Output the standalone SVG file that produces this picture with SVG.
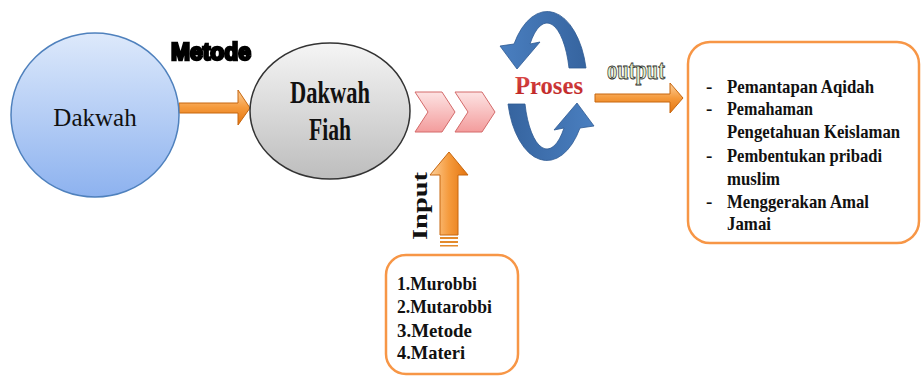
<svg xmlns="http://www.w3.org/2000/svg" width="921" height="376" viewBox="0 0 921 376">
<style>
.serif{font-family:"Liberation Serif","Times New Roman",serif;}
.item{font-family:"Liberation Serif","Times New Roman",serif;font-weight:bold;font-size:19px;fill:#111;}
.box{fill:#fff;stroke:#f79646;stroke-width:2.5;}
.oarrow{fill:url(#gOrange);stroke:#c7670f;stroke-width:1;}
.blue{fill:url(#gBlue);stroke:#2f5b93;stroke-width:0.8;}
.chev{fill:url(#gPink);stroke:#d46a6a;stroke-width:1;}
</style>
<defs>
<linearGradient id="gDakwah" x1="0" y1="0" x2="0" y2="1">
<stop offset="0" stop-color="#dde9fb"/><stop offset="1" stop-color="#8db2ef"/>
</linearGradient>
<linearGradient id="gGray" x1="0" y1="0" x2="0" y2="1">
<stop offset="0" stop-color="#f5f5f5"/><stop offset="1" stop-color="#bdbdbd"/>
</linearGradient>
<linearGradient id="gOrange" x1="0" y1="0" x2="0" y2="1">
<stop offset="0" stop-color="#fcd09c"/><stop offset="0.5" stop-color="#f59a3c"/><stop offset="1" stop-color="#e3740f"/>
</linearGradient>
<linearGradient id="gOrangeV" x1="0" y1="0" x2="1" y2="0">
<stop offset="0" stop-color="#fcd09c"/><stop offset="0.5" stop-color="#f59a3c"/><stop offset="1" stop-color="#e3740f"/>
</linearGradient>
<linearGradient id="gPink" x1="0" y1="0" x2="0" y2="1">
<stop offset="0" stop-color="#fde3e3"/><stop offset="1" stop-color="#f39c9c"/>
</linearGradient>
<linearGradient id="gBlue" x1="0" y1="0" x2="1" y2="0">
<stop offset="0" stop-color="#4a7fc0"/><stop offset="1" stop-color="#36649f"/>
</linearGradient>
<linearGradient id="gRed" x1="0" y1="0" x2="0" y2="1">
<stop offset="0" stop-color="#e05050"/><stop offset="1" stop-color="#b81e1e"/>
</linearGradient>
<filter id="blur1" x="-10%" y="-30%" width="120%" height="160%">
<feGaussianBlur stdDeviation="0.7"/>
</filter>
</defs>

<g id="connectors">
<path class="oarrow" d="M179,103 L238,103 L238,90 L250,108 L238,125 L238,113 L179,113 Z"/>
<path class="oarrow" d="M595,94 L670,94 L670,83 L683,98 L670,113 L670,102 L595,102 Z"/>
<g id="input-arrow">
<path fill="url(#gOrangeV)" stroke="#c7670f" stroke-width="1" d="M440,235 L440,175 L430,175 L449,152 L468,175 L458,175 L458,235 Z"/>
<rect x="440" y="237" width="18" height="2" fill="#e38a2c"/>
<rect x="440" y="241" width="18" height="2" fill="#e38a2c"/>
<rect x="440" y="245" width="18" height="1.5" fill="#e38a2c"/>
</g>
<g id="chevrons">
<polygon class="chev" points="415,92 442,92 455,112 442,132 415,132 428,112"/>
<polygon class="chev" points="455,92 482,92 495,112 482,132 455,132 468,112"/>
</g>
</g>

<g id="label-metode">
<text x="211" y="60" text-anchor="middle" font-family="'Liberation Sans',Arial,sans-serif" font-weight="bold" font-size="24" textLength="80" lengthAdjust="spacingAndGlyphs" fill="#000" stroke="#000" stroke-width="2.6" filter="url(#blur1)">Metode</text>
</g>

<g id="label-output">
<text x="636" y="79" text-anchor="middle" class="serif" font-weight="bold" font-size="28" textLength="58" lengthAdjust="spacingAndGlyphs" fill="#e4efcc" stroke="#2c2c2c" stroke-width="0.9">output</text>
</g>

<g id="label-input">
<text transform="translate(427,206) rotate(-90)" x="0" y="0" text-anchor="middle" class="serif" font-weight="bold" font-size="20" textLength="68" lengthAdjust="spacingAndGlyphs" fill="#111">Input</text>
</g>

<g id="node-dakwah">
<ellipse cx="95" cy="115" rx="84" ry="82" fill="url(#gDakwah)" stroke="#4f81bd" stroke-width="1.5"/>
<text x="95" y="126" text-anchor="middle" class="serif" font-size="25" fill="#111">Dakwah</text>
</g>

<g id="node-dakwah-fiah">
<ellipse cx="330" cy="111" rx="80" ry="68" fill="url(#gGray)" stroke="#333" stroke-width="1.5"/>
<text x="330" y="103" text-anchor="middle" class="serif" font-weight="bold" font-size="31" textLength="80" lengthAdjust="spacingAndGlyphs" fill="#111">Dakwah</text>
<text x="330" y="140" text-anchor="middle" class="serif" font-weight="bold" font-size="31" textLength="42" lengthAdjust="spacingAndGlyphs" fill="#111">Fiah</text>
</g>

<g id="node-proses">
<path class="blue" d="M586,68 A40,74 0 0 0 514,44 L500,46 L517,69 L540,42 L530,44 A23,64 0 0 1 569,68 Z"/>
<path class="blue" transform="rotate(180 547 86)" d="M586,68 A40,74 0 0 0 514,44 L500,46 L517,69 L540,42 L530,44 A23,64 0 0 1 569,68 Z"/>
<text x="549" y="94" text-anchor="middle" class="serif" font-weight="bold" font-size="26" textLength="68" lengthAdjust="spacingAndGlyphs" fill="url(#gRed)">Proses</text>
</g>

<g id="node-input">
<rect class="box" x="386" y="255" width="132" height="119" rx="20"/>
<text class="item" x="397" y="290" textLength="80" lengthAdjust="spacingAndGlyphs">1.Murobbi</text>
<text class="item" x="397" y="313" textLength="95" lengthAdjust="spacingAndGlyphs">2.Mutarobbi</text>
<text class="item" x="397" y="337" textLength="75" lengthAdjust="spacingAndGlyphs">3.Metode</text>
<text class="item" x="397" y="359" textLength="68" lengthAdjust="spacingAndGlyphs">4.Materi</text>
</g>

<g id="node-output">
<rect class="box" x="688" y="42" width="231" height="201" rx="22"/>
<text class="item" x="706" y="93">-</text>
<text class="item" x="727" y="93" textLength="147" lengthAdjust="spacingAndGlyphs">Pemantapan Aqidah</text>
<text class="item" x="706" y="115">-</text>
<text class="item" x="727" y="115" textLength="86" lengthAdjust="spacingAndGlyphs">Pemahaman</text>
<text class="item" transform="translate(727,138) scale(0.88,1)" x="0" y="0">Pengetahuan  Keislaman</text>
<text class="item" x="706" y="162">-</text>
<text class="item" x="727" y="162" textLength="155" lengthAdjust="spacingAndGlyphs">Pembentukan pribadi</text>
<text class="item" x="727" y="185" textLength="53" lengthAdjust="spacingAndGlyphs">muslim</text>
<text class="item" x="706" y="208">-</text>
<text class="item" x="727" y="208" textLength="142" lengthAdjust="spacingAndGlyphs">Menggerakan Amal</text>
<text class="item" x="727" y="230" textLength="44" lengthAdjust="spacingAndGlyphs">Jamai</text>
</g>
</svg>
